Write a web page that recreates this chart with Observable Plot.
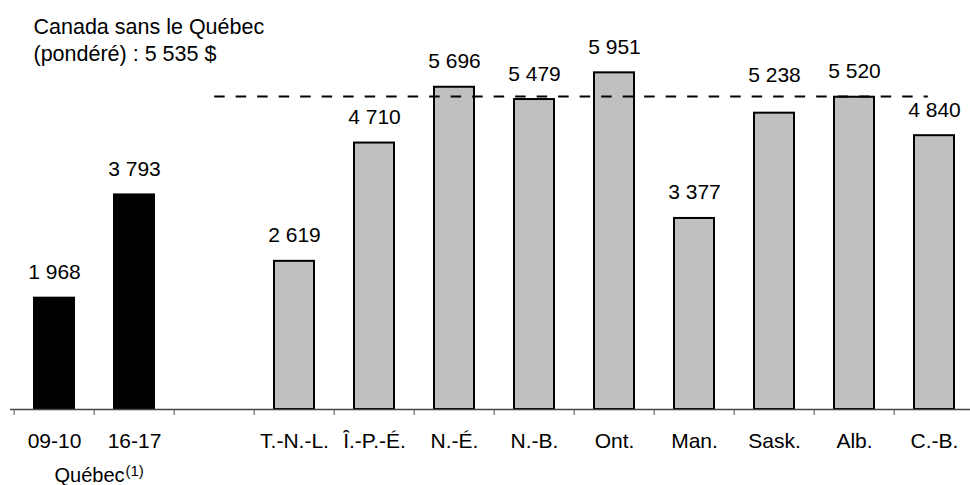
<!DOCTYPE html>
<html><head><meta charset="utf-8">
<script src="https://cdn.jsdelivr.net/npm/d3@7"></script>
<script src="https://cdn.jsdelivr.net/npm/@observablehq/plot@0.6"></script>
<style>html,body{margin:0;padding:0;background:#fff;}</style>
</head><body><div id="chart"></div>
<script>
const categories = ["09-10","16-17"," ","T.-N.-L.","Î.-P.-É.","N.-É.","N.-B.","Ont.","Man.","Sask.","Alb.","C.-B."];
const quebecYears = ["09-10","16-17"];
const quebecValues = [1968, 3793];
const provinces = ["T.-N.-L.","Î.-P.-É.","N.-É.","N.-B.","Ont.","Man.","Sask.","Alb.","C.-B."];
const provinceValues = [2619, 4710, 5696, 5479, 5951, 3377, 5238, 5520, 4840];
const canadaAvg = 5535;
const canadaLabel = ["Canada sans le Québec", "(pondéré) : 5 535 $"];
const quebecGroupLabel = "Québec";
const quebecNote = "(1)";
const blankSlot = " ";

const fmt = v => String(v).replace(/\B(?=(\d{3})+(?!\d))/g, " ");
const quebecData = quebecYears.map((c, i) => ({cat: c, value: quebecValues[i]}));
const provinceData = provinces.map((c, i) => ({cat: c, value: provinceValues[i]}));
const allData = [...quebecData, ...provinceData];

const W = 970, H = 485;
const xRange = [10, 978];
const step = (xRange[1] - xRange[0]) / categories.length;
const bandwidth = step * 0.5;
const font = '"Liberation Sans", Arial, sans-serif';
const yDomain = [0, 7000];
const plotH = H - 13 - 76;
const pxPerUnit = plotH / (yDomain[1] - yDomain[0]);
// a label whose text box would cross the dashed average line is lifted above it
const labelGap = 19, labelHeight = 16;
const collides = d => {
  const base = d.value * pxPerUnit + labelGap;       // baseline height above axis (px)
  const line = canadaAvg * pxPerUnit;
  return line > base - 4 && line < base + labelHeight;
};

const plot = Plot.plot({
  width: W, height: H,
  marginTop: 13, marginBottom: 76, marginLeft: 10, marginRight: 0,
  style: {fontFamily: font, fontSize: "21px", color: "#000", background: "#fff", overflow: "hidden"},
  x: {type: "band", domain: categories, range: xRange, paddingInner: 0.5, paddingOuter: 0.25, label: null},
  y: {domain: yDomain, axis: null},
  marks: [
    Plot.barY(quebecData, {x: "cat", y: "value", fill: "#000", stroke: "#000", strokeWidth: 2}),
    Plot.barY(provinceData, {x: "cat", y: "value", fill: "#c0c0c0", stroke: "#000", strokeWidth: 2}),
    Plot.ruleY([0], {stroke: "#444", strokeWidth: 1.3}),
    Plot.axisX({tickSize: 6, tickFormat: () => "", dx: -step / 2, stroke: "#555", label: null}),
    Plot.axisX({tickSize: 0, tickPadding: 23.5, fontSize: 21, fill: "#000", label: null}),
    Plot.ruleY([canadaAvg], {x1: () => blankSlot, x2: () => "C.-B.", insetLeft: bandwidth / 2, insetRight: bandwidth / 2 + 6, stroke: "#000", strokeWidth: 2, strokeDasharray: "10.5,11"}),
    Plot.text(allData.filter(d => !collides(d)), {x: "cat", y: "value", text: d => fmt(d.value), dy: -labelGap, lineAnchor: "bottom", fontSize: 21, fill: "#000"}),
    Plot.text(allData.filter(collides), {x: "cat", y: () => canadaAvg, text: d => fmt(d.value), dy: -14, lineAnchor: "bottom", fontSize: 21, fill: "#000"}),
    Plot.text([canadaLabel.join("\n")], {frameAnchor: "top-left", textAnchor: "start", lineAnchor: "bottom", lineHeight: 1.23, dx: 23, dy: 47, fontSize: 21.5, fill: "#000"}),
    Plot.text([quebecGroupLabel], {x: () => quebecYears[1], frameAnchor: "bottom", lineAnchor: "bottom", dy: 72, dx: -step / 2 + 5, fontSize: 20, fill: "#000"})
  ]
});

d3.select(plot).selectAll("text")
  .filter(function () { return this.textContent === quebecGroupLabel; })
  .append("tspan").attr("font-size", 15).attr("dx", 1).attr("dy", -6).text(quebecNote);

document.getElementById("chart").appendChild(plot);
</script>
</body></html>
